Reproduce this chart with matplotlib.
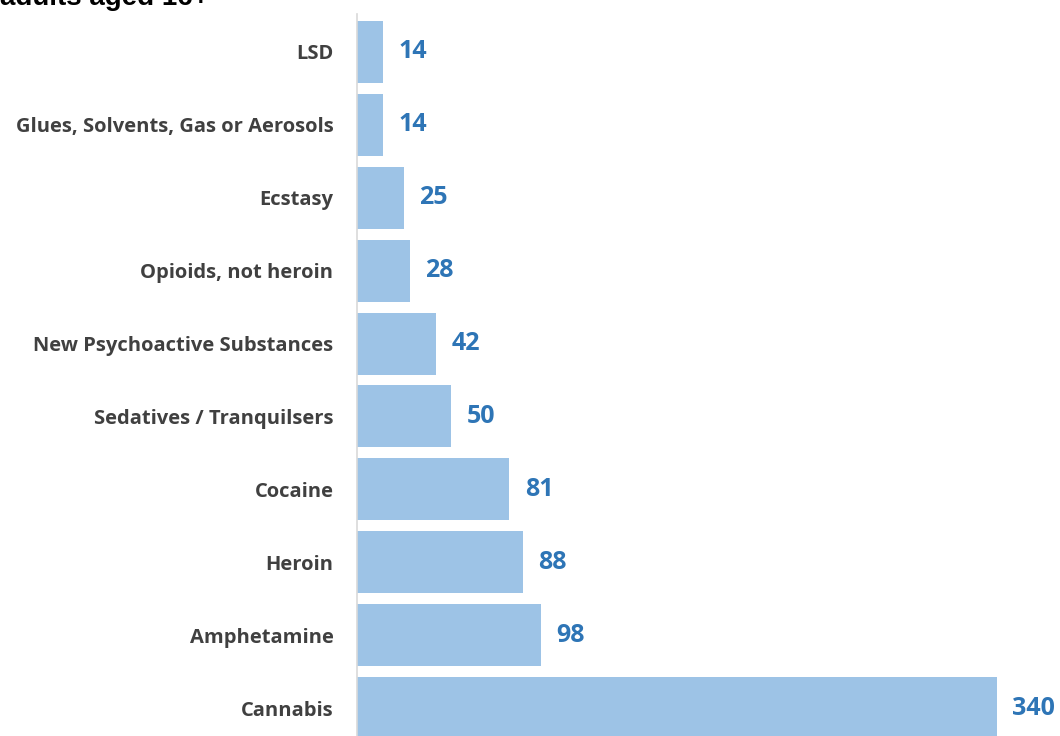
import matplotlib
matplotlib.use("Agg")
import matplotlib.pyplot as plt

categories = [
    "LSD",
    "Glues, Solvents, Gas or Aerosols",
    "Ecstasy",
    "Opioids, not heroin",
    "New Psychoactive Substances",
    "Sedatives / Tranquilsers",
    "Cocaine",
    "Heroin",
    "Amphetamine",
    "Cannabis",
]
values = [14, 14, 25, 28, 42, 50, 81, 88, 98, 340]

W, H = 1060, 736
fig = plt.figure(figsize=(W / 100, H / 100), dpi=100)
ax = fig.add_axes([357 / W, 0, (W - 357) / W, (H - 14) / H])

pos = list(range(len(categories)))
ax.barh(pos, values, height=0.85, color="#9DC3E6", zorder=2)
ax.set_xlim(0, (W - 357) / 1.882)
ax.set_ylim(9.383, -0.521)

for p, v in zip(pos, values):
    ax.annotate(str(v), (v, p), xytext=(11, 0), textcoords="offset points",
                ha="left", va="center", fontsize=18, fontweight="bold",
                color="#2E75B6", family="Open Sans")

ax.set_yticks(pos)
ax.set_yticklabels(categories, fontsize=14.5, fontweight="bold", color="#404040",
                   family="Open Sans")
ax.tick_params(axis="y", length=0, pad=17)
ax.set_xticks([])
for s in ["top", "right", "bottom"]:
    ax.spines[s].set_visible(False)
ax.spines["left"].set_color("#D9D9D9")
ax.spines["left"].set_linewidth(1.2)

# title is cropped at the top edge in the source image
fig.text(0, 1 - 5 / H, "adults aged 16+", fontsize=20, fontweight="bold",
         family="Liberation Sans", ha="left", va="baseline", color="black")

fig.savefig("out.png", dpi=100)
